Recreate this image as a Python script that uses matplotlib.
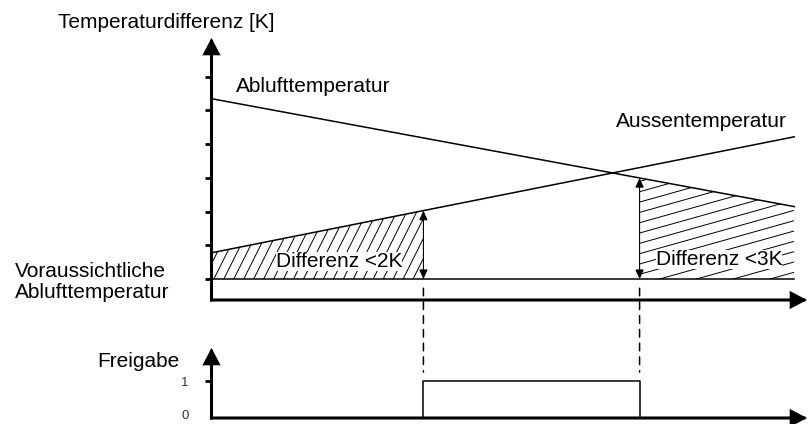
"""
Freigabe-Logik: Ablufttemperatur vs. Aussentemperatur (Schema).
"""

import numpy as np
import matplotlib.pyplot as plt
import matplotlib.transforms as mtransforms
from matplotlib.patches import Polygon, ConnectionPatch
from matplotlib.collections import LineCollection

plt.rcParams["font.family"] = ["Liberation Sans", "DejaVu Sans"]

# --- data (schematic) ---
x_lines = [0.0, 27.5]          # time axis, start/end of both curves
abluft = [5.35, 2.15]          # Ablufttemperatur [K above baseline]
aussen = [0.78, 4.22]          # Aussentemperatur
baseline = [0.0, 0.0]          # voraussichtliche Ablufttemperatur
t_on, t_off = 10.0, 20.2       # Freigabe switching points
k_ticks = [0, 1, 2, 3, 4, 5, 6]
freigabe_x = [t_on, t_on, t_off, t_off]
freigabe_y = [0, 1, 1, 0]
freigabe_ticks = [0, 1]
freigabe_labels = ["0", "1"]

W, H = 809, 424
FS = 15


def box(x0, y0, x1, y1):
    # pixel box -> figure fraction [left, bottom, width, height]
    return [x0 / W, 1 - y1 / H, (x1 - x0) / W, (y1 - y0) / H]


fig = plt.figure(figsize=(W / 100, H / 100), dpi=100)
ax = fig.add_axes(box(211.5, 38, 807, 300))
axb = fig.add_axes(box(211.5, 348, 807, 418))

ax.set_xlim(0, 28.1)
ax.set_ylim(-0.62, 7.15)
axb.set_xlim(0, 28.1)
axb.set_ylim(0, 70 / 37)

axis_kw = dict(arrowstyle="-|>,head_length=0.36,head_width=0.19", mutation_scale=25,
               lw=2.2, color="k", shrinkA=0, shrinkB=0, capstyle="projecting",
               joinstyle="miter")
for a in (ax, axb):
    for s in a.spines.values():
        s.set_visible(False)
    a.set_facecolor("none")
    a.set_xticks([])
    a.annotate("", xy=(0, 1), xytext=(0, 0), xycoords="axes fraction",
               arrowprops=axis_kw, annotation_clip=False)
    a.annotate("", xy=(1, 0), xytext=(0, 0), xycoords="axes fraction",
               arrowprops=axis_kw, annotation_clip=False)

ax.set_yticks(k_ticks)
ax.tick_params(axis="y", direction="out", length=5, width=2, labelleft=False)

axb.set_yticks(freigabe_ticks, freigabe_labels)
axb.tick_params(axis="y", direction="out", length=5, width=2, pad=11.5,
                labelsize=9.5, labelcolor="#333333")
axb.yaxis.get_major_ticks()[0].tick1line.set_visible(False)
# "0" sits a little above the time axis
lbl0 = axb.get_yticklabels()[0]
lbl0.set_transform(lbl0.get_transform()
                   + mtransforms.ScaledTranslation(0, 3.5 / 100, fig.dpi_scale_trans))

# curves
ax.plot(x_lines, abluft, color="k", lw=1.1)
ax.plot(x_lines, aussen, color="k", lw=1.1)
ax.plot(x_lines, baseline, color="k", lw=1.1)

# hatched region 1: under Aussentemperatur until t_on
top_on = float(np.interp(t_on, x_lines, aussen))
reg1 = Polygon([(0, 0), (0, aussen[0]), (t_on, top_on), (t_on, 0)],
               closed=True, fill=False, ec="none")
ax.add_patch(reg1)
s1 = 2.0 * 21.2 / 33.7
segs = [[(c, 0), (c + 6, 6 * s1)] for c in np.arange(-6, t_on + 1, 0.47)]
lc1 = LineCollection(segs, colors="k", linewidths=0.7)
ax.add_collection(lc1)
lc1.set_clip_path(reg1)

# hatched region 2: under Ablufttemperatur from t_off
top_off = float(np.interp(t_off, x_lines, abluft))
reg2 = Polygon([(t_off, 0), (t_off, top_off), (x_lines[1], abluft[1]), (x_lines[1], 0)],
               closed=True, fill=False, ec="none")
ax.add_patch(reg2)
s2 = 0.28 * 21.2 / 33.7
segs = [[(t_off, b), (x_lines[1], b + s2 * (x_lines[1] - t_off))]
        for b in np.arange(-2, 3.5, 0.306)]
lc2 = LineCollection(segs, colors="k", linewidths=0.7)
ax.add_collection(lc2)
lc2.set_clip_path(reg2)

# difference arrows
dbl = dict(arrowstyle="<|-|>,head_length=0.4,head_width=0.18", mutation_scale=14,
           lw=0.8, color="k", shrinkA=0, shrinkB=0)
ax.annotate("", xy=(t_on, top_on), xytext=(t_on, 0), arrowprops=dbl)
ax.annotate("", xy=(t_off, top_off), xytext=(t_off, 0), arrowprops=dbl)

# dashed guides down to the Freigabe signal
for xv in (t_on, t_off):
    cp = ConnectionPatch(xyA=(xv, -0.27), coordsA=ax.transData,
                         xyB=(xv, 1.24), coordsB=axb.transData,
                         color="k", lw=1.1, linestyle=(0, (5, 4)))
    fig.add_artist(cp)

# Freigabe signal
axb.plot(freigabe_x, freigabe_y, color="k", lw=1.1)

# labels
txt = dict(fontsize=FS, color="k")
ax.text(1.16, 5.55, "Ablufttemperatur", ha="left", va="baseline", **txt)
ax.text(27.15, 4.51, "Aussentemperatur", ha="right", va="baseline", **txt)
white = dict(fc="white", ec="none", pad=0)
ax.text(6.01, 0.356, "Differenz <2K", ha="center", va="baseline", bbox=white, **txt)
ax.text(23.94, 0.415, "Differenz <3K", ha="center", va="baseline", bbox=white, **txt)

fig.text(58 / W, 1 - 28 / H, "Temperaturdifferenz [K]", ha="left", va="baseline", **txt)
fig.text(15 / W, 1 - 277 / H, "Voraussichtliche", ha="left", va="baseline", **txt)
fig.text(15 / W, 1 - 298 / H, "Ablufttemperatur", ha="left", va="baseline", **txt)
fig.text(97 / W, 1 - 367 / H, "Freigabe", ha="left", va="baseline", **txt)

fig.savefig("out.png", dpi=100)
